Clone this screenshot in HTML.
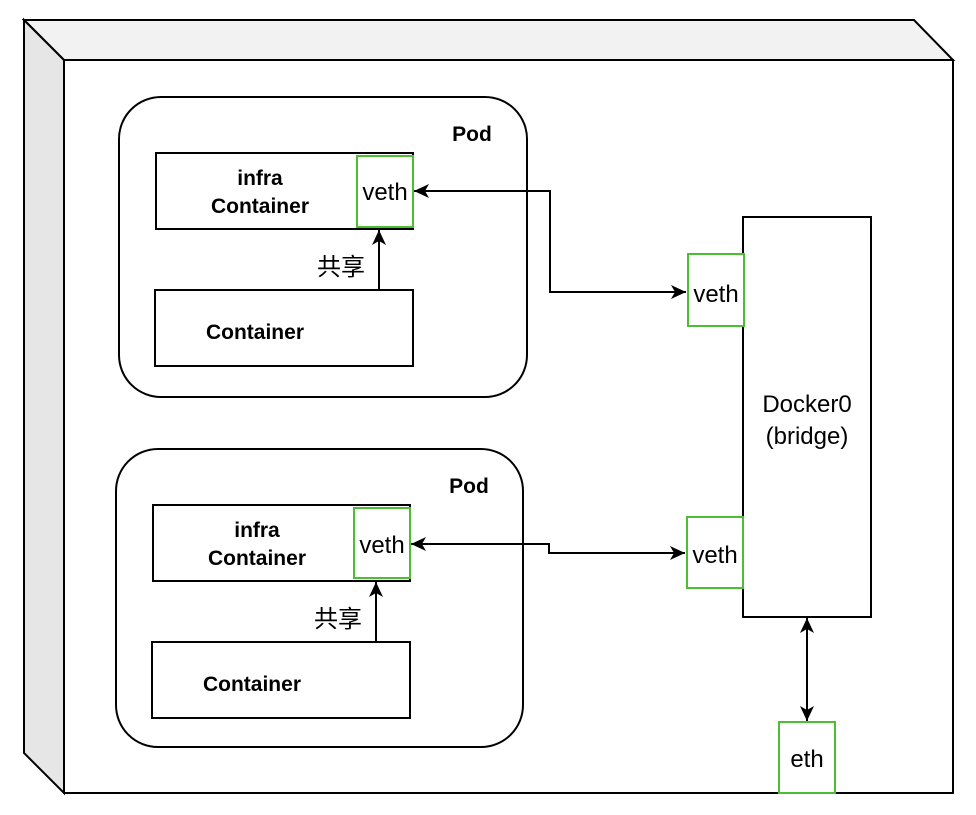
<!DOCTYPE html>
<html><head><meta charset="utf-8"><style>body{margin:0;background:#fff}</style></head><body>
<svg width="976" height="810" xmlns="http://www.w3.org/2000/svg" font-family="Liberation Sans, Noto Sans CJK SC, sans-serif">
<defs><marker id="a" markerWidth="16" markerHeight="16" refX="15" refY="7" orient="auto-start-reverse" markerUnits="userSpaceOnUse"><path d="M0,0 L15,7 L0,14 L4,7 Z" fill="#000"/></marker></defs>
<g stroke="#000" stroke-width="2">
<polygon points="24,20 914,20 953,60 64,60" fill="#f2f2f2"/>
<polygon points="24,20 64,60 64,793 24,753" fill="#e6e6e6"/>
<rect x="64" y="60" width="889" height="733" fill="#fff"/>
<rect x="119" y="97" width="408" height="300" rx="42" fill="#fff"/>
<rect x="116" y="449" width="407" height="298" rx="42" fill="#fff"/>
<rect x="156" y="153" width="257" height="76" fill="#fff"/>
<rect x="155" y="290" width="258" height="76" fill="#fff"/>
<rect x="153" y="505" width="257" height="76" fill="#fff"/>
<rect x="152" y="642" width="258" height="76" fill="#fff"/>
<rect x="743" y="217" width="128" height="400" fill="#fff"/>
</g>
<g stroke="#4dbd33" stroke-width="2" fill="#fff">
<rect x="357" y="156" width="56" height="71"/>
<rect x="354" y="508" width="56" height="70"/>
<rect x="688" y="254" width="56" height="72"/>
<rect x="687" y="517" width="56" height="71"/>
<rect x="779" y="722" width="56" height="71"/>
</g>
<g stroke="#000" stroke-width="2" fill="none">
<path d="M379,290 V230" marker-end="url(#a)"/>
<path d="M376,642 V582" marker-end="url(#a)"/>
<path d="M414,191 H550 V292 H686" marker-start="url(#a)" marker-end="url(#a)"/>
<path d="M411,544 H549 V553 H685" marker-start="url(#a)" marker-end="url(#a)"/>
<path d="M807,618 V721" marker-start="url(#a)" marker-end="url(#a)"/>
</g>
<g font-size="21" text-anchor="middle" font-weight="bold">
<text x="472" y="141">Pod</text>
<text x="469" y="493">Pod</text>
<text x="260" y="185">infra</text>
<text x="260" y="213">Container</text>
<text x="257" y="537">infra</text>
<text x="257" y="565">Container</text>
<text x="255" y="339">Container</text>
<text x="252" y="691">Container</text>
</g>
<g font-size="24" text-anchor="middle">
<text x="385" y="200">veth</text>
<text x="382" y="553">veth</text>
<text x="716" y="302">veth</text>
<text x="715" y="563">veth</text>
<text x="807" y="767">eth</text>
<text x="807" y="412">Docker0</text>
<text x="807" y="444">(bridge)</text>
<text x="341" y="275">共享</text>
<text x="338" y="627">共享</text>
</g>
</svg>
</body></html>
